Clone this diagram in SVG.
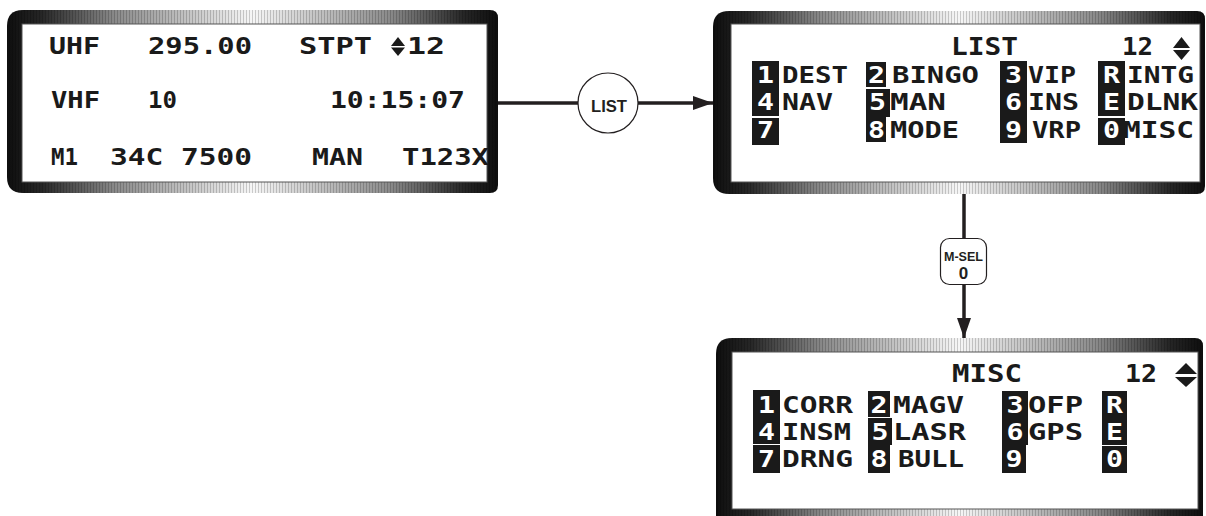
<svg xmlns="http://www.w3.org/2000/svg" width="1206" height="516" viewBox="0 0 1206 516">
<style>
.t{font-family:"DejaVu Sans Mono","Liberation Mono",monospace;font-weight:bold;fill:#1a1a1a}
.s{font-size:23px}
.r{font-size:23px}
.h{font-size:25px}
.d{font-family:"DejaVu Sans Mono","Liberation Mono",monospace;font-weight:bold;fill:#fff;font-size:23px;text-anchor:middle}
.box{fill:#1a1a1a}
.inner{fill:#fff;stroke:#555;stroke-width:1}
.line{stroke:#231f20;stroke-width:3.5;fill:none}
.lbl{font-family:"Liberation Sans",Arial,sans-serif;font-weight:bold;fill:#231f20;text-anchor:middle}
.tri{fill:#1a1a1a}
</style>
<defs>
<linearGradient id="fg" x1="0" y1="0" x2="1" y2="0">
<stop offset="0" stop-color="#0e0e0e"/>
<stop offset="0.07" stop-color="#262626"/>
<stop offset="0.22" stop-color="#8a8a8a"/>
<stop offset="0.5" stop-color="#f6f6f6"/>
<stop offset="0.78" stop-color="#8a8a8a"/>
<stop offset="0.93" stop-color="#262626"/>
<stop offset="1" stop-color="#0e0e0e"/>
</linearGradient>
<pattern id="stripes" width="3" height="4" patternUnits="userSpaceOnUse">
<rect x="0" y="0" width="1" height="4" fill="#000" fill-opacity="0.18"/>
</pattern>
<marker id="ah" markerUnits="userSpaceOnUse" markerWidth="22" markerHeight="14" refX="20" refY="7" orient="auto">
<path d="M0,0 L20,7 L0,14 Z" fill="#231f20"/>
</marker>
</defs>

<g id="node-main">
<path d="M23 10 H490 Q498 10 498 18 V185 Q498 193 490 193 H23 Q7 193 7 177 V26 Q7 10 23 10 Z" fill="url(#fg)"/>
<path d="M23 10 H490 Q498 10 498 18 V185 Q498 193 490 193 H23 Q7 193 7 177 V26 Q7 10 23 10 Z" fill="url(#stripes)"/>
<rect class="inner" x="22" y="24" width="465" height="158"/>
<text class="t s" x="49" y="54" textLength="51" lengthAdjust="spacingAndGlyphs">UHF</text>
<text class="t s" x="148" y="54" textLength="104" lengthAdjust="spacingAndGlyphs">295.00</text>
<text class="t s" x="299" y="54" textLength="73" lengthAdjust="spacingAndGlyphs">STPT</text>
<polygon class="tri" points="391,46 398,37 405,46"/>
<polygon class="tri" points="391,47.5 405,47.5 398,56"/>
<text class="t s" x="407" y="54" textLength="38" lengthAdjust="spacingAndGlyphs">12</text>
<text class="t s" x="51" y="108" textLength="49" lengthAdjust="spacingAndGlyphs">VHF</text>
<text class="t s" x="148" y="108" textLength="29" lengthAdjust="spacingAndGlyphs">10</text>
<text class="t s" x="330" y="108" textLength="135" lengthAdjust="spacingAndGlyphs">10:15:07</text>
<text class="t s" x="51" y="165" textLength="27" lengthAdjust="spacingAndGlyphs">M1</text>
<text class="t s" x="110" y="165" textLength="142" lengthAdjust="spacingAndGlyphs">34C 7500</text>
<text class="t s" x="312" y="165" textLength="51" lengthAdjust="spacingAndGlyphs">MAN</text>
<text class="t s" x="402" y="165" textLength="87" lengthAdjust="spacingAndGlyphs">T123X</text>
</g>

<g id="node-list">
<path d="M729 11 H1197 Q1205 11 1205 19 V186 Q1205 194 1197 194 H729 Q713 194 713 178 V27 Q713 11 729 11 Z" fill="url(#fg)"/>
<path d="M729 11 H1197 Q1205 11 1205 19 V186 Q1205 194 1197 194 H729 Q713 194 713 178 V27 Q713 11 729 11 Z" fill="url(#stripes)"/>
<rect class="inner" x="731" y="24" width="469" height="158"/>
<text class="t h" x="951" y="55" textLength="67" lengthAdjust="spacingAndGlyphs">LIST</text>
<text class="t h" x="1122" y="55" textLength="31" lengthAdjust="spacingAndGlyphs">12</text>
<polygon class="tri" points="1173,48 1181.5,37 1190,48"/>
<polygon class="tri" points="1173,50 1190,50 1181.5,60"/>
<rect class="box" x="752" y="61" width="27" height="55"/>
<rect class="box" x="752" y="118" width="27" height="27"/>
<rect class="box" x="866" y="62" width="20" height="25"/>
<rect class="box" x="866" y="89" width="24" height="28"/>
<rect class="box" x="866" y="117" width="20" height="25"/>
<rect class="box" x="1000" y="61" width="27" height="82"/>
<rect class="box" x="1098" y="61" width="27" height="55"/>
<rect class="box" x="1098" y="118" width="27" height="27"/>
<text class="d" x="765.5" y="83" textLength="17" lengthAdjust="spacingAndGlyphs">1</text>
<text class="d" x="765.5" y="110" textLength="17" lengthAdjust="spacingAndGlyphs">4</text>
<text class="d" x="765.5" y="138" textLength="17" lengthAdjust="spacingAndGlyphs">7</text>
<text class="d" x="876.5" y="83" textLength="17" lengthAdjust="spacingAndGlyphs">2</text>
<text class="d" x="877.5" y="110" textLength="17" lengthAdjust="spacingAndGlyphs">5</text>
<text class="d" x="876.5" y="138" textLength="17" lengthAdjust="spacingAndGlyphs">8</text>
<text class="d" x="1013.5" y="83" textLength="17" lengthAdjust="spacingAndGlyphs">3</text>
<text class="d" x="1013.5" y="110" textLength="17" lengthAdjust="spacingAndGlyphs">6</text>
<text class="d" x="1013.5" y="138" textLength="17" lengthAdjust="spacingAndGlyphs">9</text>
<text class="d" x="1111.5" y="83" textLength="17" lengthAdjust="spacingAndGlyphs">R</text>
<text class="d" x="1111.5" y="110" textLength="17" lengthAdjust="spacingAndGlyphs">E</text>
<text class="d" x="1111.5" y="138" textLength="17" lengthAdjust="spacingAndGlyphs">0</text>
<text class="t r" x="782" y="83" textLength="66" lengthAdjust="spacingAndGlyphs">DEST</text>
<text class="t r" x="892" y="83" textLength="87" lengthAdjust="spacingAndGlyphs">BINGO</text>
<text class="t r" x="1028" y="83" textLength="48" lengthAdjust="spacingAndGlyphs">VIP</text>
<text class="t r" x="1127" y="83" textLength="67" lengthAdjust="spacingAndGlyphs">INTG</text>
<text class="t r" x="782" y="110" textLength="51" lengthAdjust="spacingAndGlyphs">NAV</text>
<text class="t r" x="890" y="110" textLength="56" lengthAdjust="spacingAndGlyphs">MAN</text>
<text class="t r" x="1028" y="110" textLength="51" lengthAdjust="spacingAndGlyphs">INS</text>
<text class="t r" x="1127" y="110" textLength="71" lengthAdjust="spacingAndGlyphs">DLNK</text>
<text class="t r" x="890" y="138" textLength="69" lengthAdjust="spacingAndGlyphs">MODE</text>
<text class="t r" x="1032" y="138" textLength="49" lengthAdjust="spacingAndGlyphs">VRP</text>
<text class="t r" x="1123" y="138" textLength="71" lengthAdjust="spacingAndGlyphs">MISC</text>
</g>

<g id="node-misc">
<path d="M732 338 H1195 Q1203 338 1203 346 V530 H716 V354 Q716 338 732 338 Z" fill="url(#fg)"/>
<path d="M732 338 H1195 Q1203 338 1203 346 V530 H716 V354 Q716 338 732 338 Z" fill="url(#stripes)"/>
<rect class="inner" x="732" y="352" width="466" height="157"/>
<text class="t h" x="952" y="382" textLength="70" lengthAdjust="spacingAndGlyphs">MISC</text>
<text class="t h" x="1125" y="382" textLength="32" lengthAdjust="spacingAndGlyphs">12</text>
<polygon class="tri" points="1175,374 1186,363 1197,374"/>
<polygon class="tri" points="1175,377 1197,377 1186,387"/>
<rect class="box" x="753" y="390" width="27" height="54"/>
<rect class="box" x="753" y="445" width="27" height="28"/>
<rect class="box" x="868" y="391" width="22" height="26"/>
<rect class="box" x="868" y="418" width="24" height="27"/>
<rect class="box" x="868" y="445" width="22" height="28"/>
<rect class="box" x="1002" y="391" width="26" height="54"/>
<rect class="box" x="1002" y="445" width="24" height="28"/>
<rect class="box" x="1102" y="391" width="25" height="54"/>
<rect class="box" x="1102" y="446" width="25" height="27"/>
<text class="d" x="766.5" y="413" textLength="17" lengthAdjust="spacingAndGlyphs">1</text>
<text class="d" x="766.5" y="440" textLength="17" lengthAdjust="spacingAndGlyphs">4</text>
<text class="d" x="766.5" y="467" textLength="17" lengthAdjust="spacingAndGlyphs">7</text>
<text class="d" x="879" y="413" textLength="17" lengthAdjust="spacingAndGlyphs">2</text>
<text class="d" x="880" y="440" textLength="17" lengthAdjust="spacingAndGlyphs">5</text>
<text class="d" x="879" y="467" textLength="17" lengthAdjust="spacingAndGlyphs">8</text>
<text class="d" x="1015" y="413" textLength="17" lengthAdjust="spacingAndGlyphs">3</text>
<text class="d" x="1015" y="440" textLength="17" lengthAdjust="spacingAndGlyphs">6</text>
<text class="d" x="1014" y="467" textLength="17" lengthAdjust="spacingAndGlyphs">9</text>
<text class="d" x="1114.5" y="413" textLength="17" lengthAdjust="spacingAndGlyphs">R</text>
<text class="d" x="1114.5" y="440" textLength="17" lengthAdjust="spacingAndGlyphs">E</text>
<text class="d" x="1114.5" y="467" textLength="17" lengthAdjust="spacingAndGlyphs">0</text>
<text class="t r" x="782" y="413" textLength="71" lengthAdjust="spacingAndGlyphs">CORR</text>
<text class="t r" x="893" y="413" textLength="71" lengthAdjust="spacingAndGlyphs">MAGV</text>
<text class="t r" x="1028" y="413" textLength="55" lengthAdjust="spacingAndGlyphs">OFP</text>
<text class="t r" x="782" y="440" textLength="69" lengthAdjust="spacingAndGlyphs">INSM</text>
<text class="t r" x="893" y="440" textLength="73" lengthAdjust="spacingAndGlyphs">LASR</text>
<text class="t r" x="1028" y="440" textLength="55" lengthAdjust="spacingAndGlyphs">GPS</text>
<text class="t r" x="782" y="467" textLength="71" lengthAdjust="spacingAndGlyphs">DRNG</text>
<text class="t r" x="898" y="467" textLength="66" lengthAdjust="spacingAndGlyphs">BULL</text>
</g>

<g id="connectors">
<line class="line" x1="498" y1="103" x2="578" y2="103"/>
<line class="line" x1="638" y1="103" x2="713" y2="103" marker-end="url(#ah)"/>
<g id="label-list">
<circle cx="608" cy="103" r="30" fill="#fff" stroke="#231f20" stroke-width="1.2"/>
<text class="lbl" x="609" y="112" font-size="16" textLength="36" lengthAdjust="spacingAndGlyphs">LIST</text>
</g>
<line class="line" x1="964" y1="194" x2="964" y2="238"/>
<line class="line" x1="964" y1="285" x2="964" y2="338" marker-end="url(#ah)"/>
<g id="label-msel">
<rect x="940.5" y="238.5" width="46" height="46" rx="9" fill="#fff" stroke="#231f20" stroke-width="1.2"/>
<text class="lbl" x="963.5" y="261" font-size="12.5" textLength="39" lengthAdjust="spacingAndGlyphs">M-SEL</text>
<text class="lbl" x="963.5" y="279" font-size="17">0</text>
</g>
</g>
</svg>
